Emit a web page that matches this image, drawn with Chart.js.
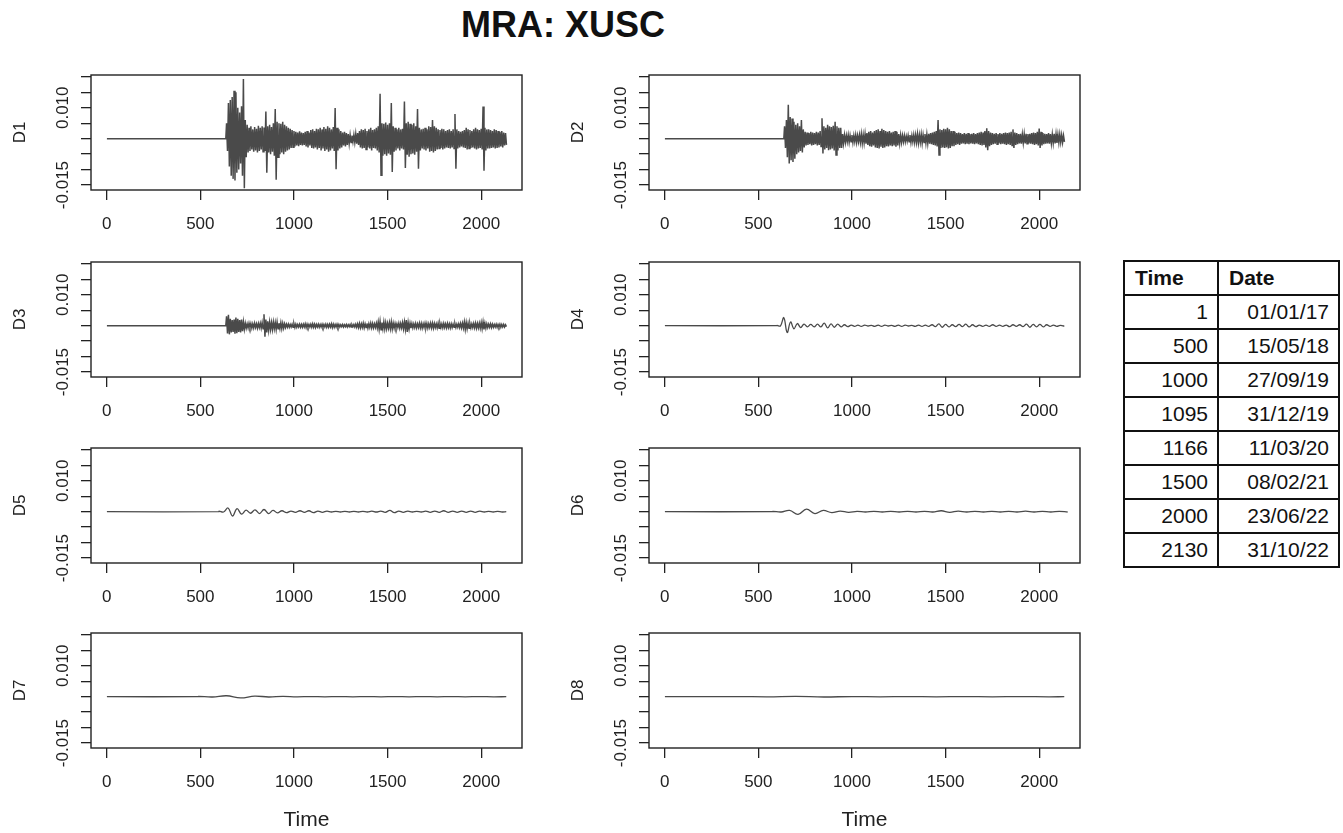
<!DOCTYPE html>
<html>
<head>
<meta charset="utf-8">
<title>MRA: XUSC</title>
<script src="https://cdn.jsdelivr.net/npm/chart.js@4.4.1/dist/chart.umd.min.js"></script>
<style>
  body {
    margin: 0;
    background: #fff;
    width: 1343px;
    height: 833px;
    overflow: hidden;
    position: relative;
    font-family: "Liberation Sans", Arial, sans-serif;
  }
  h1 {
    position: absolute;
    left: 0;
    top: 7px;
    width: 1126px;
    margin: 0;
    text-align: center;
    font-size: 36px;
    line-height: 36px;
    font-weight: bold;
    color: #111;
  }
  canvas { position: absolute; }
  #dates {
    position: absolute;
    left: 1123px;
    top: 260px;
    border-collapse: collapse;
    font-size: 21px;
    color: #111;
  }
  #dates th, #dates td {
    border: 2px solid #111;
    height: 32px;
    padding: 0 9px 0 10px;
  }
  #dates th { text-align: left; font-weight: bold; }
  #dates td { text-align: right; }
  #dates .c1 { width: 73px; }
  #dates .c2 { width: 100px; }
</style>
</head>
<body>
<h1>MRA: XUSC</h1>
<table id="dates"></table>

<script>
// time index vs calendar date lookup
const tableTimes = ["1", "500", "1000", "1095", "1166", "1500", "2000", "2130"];
const tableDates = ["01/01/17", "15/05/18", "27/09/19", "31/12/19", "11/03/20", "08/02/21", "23/06/22", "31/10/22"];

const xTickValues = [0, 500, 1000, 1500, 2000];
const yTickStep = 0.005;
const yTickLabels = ["-0.015", "0.010"];
const lastTime = 2134;

// D1: highs / lows of the detail band, every 10 steps from t = 640
const d1High = [
  0.0050, 0.0115, 0.0125, 0.0135, 0.0155, 0.0150, 0.0100, 0.0085, 0.0105, 0.0193,
  0.0060, 0.0045, 0.0035, 0.0040, 0.0030, 0.0038, 0.0032, 0.0042, 0.0035, 0.0040,
  0.0036, 0.0088, 0.0040, 0.0045, 0.0038, 0.0050, 0.0096, 0.0055, 0.0050, 0.0048,
  0.0055, 0.0045, 0.0040, 0.0035, 0.0032, 0.0028, 0.0025, 0.0022, 0.0020, 0.0024,
  0.0020, 0.0018, 0.0022, 0.0025, 0.0020, 0.0028, 0.0030, 0.0025, 0.0032, 0.0030,
  0.0035, 0.0030, 0.0038, 0.0032, 0.0040, 0.0035, 0.0030, 0.0038, 0.0099, 0.0035,
  0.0030, 0.0025, 0.0020, 0.0022, 0.0018, 0.0015, 0.0012, 0.0010, 0.0012, 0.0015,
  0.0018, 0.0025, 0.0030, 0.0028, 0.0032, 0.0025, 0.0030, 0.0035, 0.0028, 0.0030,
  0.0035, 0.0040, 0.0145, 0.0050, 0.0048, 0.0052, 0.0045, 0.0050, 0.0115, 0.0040,
  0.0035, 0.0030, 0.0035, 0.0030, 0.0032, 0.0120, 0.0050, 0.0055, 0.0048, 0.0045,
  0.0050, 0.0040, 0.0096, 0.0035, 0.0030, 0.0032, 0.0035, 0.0030, 0.0040, 0.0038,
  0.0060, 0.0040, 0.0035, 0.0030, 0.0028, 0.0032, 0.0030, 0.0025, 0.0028, 0.0030,
  0.0025, 0.0030, 0.0080, 0.0030, 0.0025, 0.0022, 0.0025, 0.0028, 0.0035, 0.0030,
  0.0028, 0.0025, 0.0030, 0.0035, 0.0030, 0.0028, 0.0032, 0.0104, 0.0035, 0.0030,
  0.0030, 0.0028, 0.0025, 0.0030, 0.0028, 0.0025, 0.0022, 0.0025, 0.0020, 0.0018
];
const d1Low = [
  -0.0040, -0.0090, -0.0120, -0.0130, -0.0135, -0.0110, -0.0100, -0.0080, -0.0120, -0.0160,
  -0.0060, -0.0045, -0.0040, -0.0035, -0.0042, -0.0038, -0.0045, -0.0040, -0.0035, -0.0042,
  -0.0040, -0.0110, -0.0045, -0.0050, -0.0042, -0.0055, -0.0133, -0.0060, -0.0050, -0.0045,
  -0.0050, -0.0042, -0.0038, -0.0035, -0.0030, -0.0028, -0.0025, -0.0022, -0.0024, -0.0020,
  -0.0022, -0.0020, -0.0025, -0.0028, -0.0022, -0.0030, -0.0032, -0.0028, -0.0035, -0.0030,
  -0.0038, -0.0032, -0.0040, -0.0035, -0.0042, -0.0038, -0.0032, -0.0040, -0.0099, -0.0038,
  -0.0032, -0.0028, -0.0022, -0.0025, -0.0020, -0.0016, -0.0012, -0.0010, -0.0012, -0.0016,
  -0.0020, -0.0028, -0.0032, -0.0030, -0.0035, -0.0028, -0.0032, -0.0038, -0.0030, -0.0032,
  -0.0038, -0.0045, -0.0118, -0.0055, -0.0050, -0.0055, -0.0048, -0.0052, -0.0108, -0.0042,
  -0.0038, -0.0032, -0.0038, -0.0032, -0.0035, -0.0095, -0.0052, -0.0058, -0.0050, -0.0048,
  -0.0052, -0.0042, -0.0097, -0.0038, -0.0032, -0.0035, -0.0038, -0.0032, -0.0042, -0.0040,
  -0.0045, -0.0040, -0.0035, -0.0032, -0.0030, -0.0035, -0.0032, -0.0028, -0.0030, -0.0032,
  -0.0028, -0.0032, -0.0097, -0.0032, -0.0028, -0.0025, -0.0028, -0.0030, -0.0035, -0.0032,
  -0.0030, -0.0028, -0.0032, -0.0035, -0.0032, -0.0030, -0.0035, -0.0104, -0.0038, -0.0032,
  -0.0032, -0.0030, -0.0028, -0.0032, -0.0030, -0.0028, -0.0025, -0.0028, -0.0022, -0.0020
];

// D2, same grid as D1
const d2High = [
  0.0040, 0.0060, 0.0110, 0.0070, 0.0065, 0.0055, 0.0045, 0.0050, 0.0040, 0.0060,
  0.0030, 0.0022, 0.0020, 0.0018, 0.0022, 0.0020, 0.0018, 0.0022, 0.0020, 0.0025,
  0.0066, 0.0040, 0.0035, 0.0045, 0.0040, 0.0038, 0.0042, 0.0055, 0.0040, 0.0035,
  0.0035, 0.0015, 0.0012, 0.0010, 0.0012, 0.0010, 0.0012, 0.0010, 0.0012, 0.0010,
  0.0012, 0.0015, 0.0012, 0.0015, 0.0018, 0.0022, 0.0025, 0.0020, 0.0025, 0.0028,
  0.0030, 0.0025, 0.0032, 0.0028, 0.0025, 0.0022, 0.0025, 0.0020, 0.0022, 0.0025,
  0.0022, 0.0015, 0.0012, 0.0010, 0.0010, 0.0008, 0.0010, 0.0012, 0.0010, 0.0012,
  0.0012, 0.0015, 0.0012, 0.0014, 0.0012, 0.0015, 0.0014, 0.0016, 0.0018, 0.0020,
  0.0022, 0.0025, 0.0060, 0.0030, 0.0028, 0.0032, 0.0030, 0.0035, 0.0030, 0.0025,
  0.0025, 0.0022, 0.0018, 0.0020, 0.0018, 0.0015, 0.0018, 0.0016, 0.0018, 0.0015,
  0.0016, 0.0018, 0.0015, 0.0018, 0.0020, 0.0022, 0.0020, 0.0025, 0.0034, 0.0025,
  0.0020, 0.0018, 0.0016, 0.0018, 0.0015, 0.0018, 0.0016, 0.0018, 0.0020, 0.0018,
  0.0020, 0.0022, 0.0030, 0.0020, 0.0018, 0.0015, 0.0016, 0.0014, 0.0015, 0.0016,
  0.0015, 0.0016, 0.0018, 0.0020, 0.0018, 0.0022, 0.0033, 0.0022, 0.0018, 0.0016,
  0.0015, 0.0018, 0.0015, 0.0014, 0.0016, 0.0015, 0.0013, 0.0014, 0.0012, 0.0010
];
const d2Low = [
  -0.0030, -0.0060, -0.0080, -0.0070, -0.0075, -0.0065, -0.0050, -0.0045, -0.0040, -0.0045,
  -0.0028, -0.0022, -0.0020, -0.0018, -0.0022, -0.0020, -0.0018, -0.0022, -0.0020, -0.0025,
  -0.0048, -0.0035, -0.0030, -0.0037, -0.0035, -0.0032, -0.0038, -0.0053, -0.0038, -0.0030,
  -0.0030, -0.0015, -0.0012, -0.0010, -0.0012, -0.0010, -0.0012, -0.0010, -0.0012, -0.0010,
  -0.0012, -0.0015, -0.0014, -0.0016, -0.0020, -0.0024, -0.0026, -0.0022, -0.0028, -0.0030,
  -0.0032, -0.0026, -0.0030, -0.0028, -0.0024, -0.0025, -0.0022, -0.0024, -0.0022, -0.0026,
  -0.0022, -0.0015, -0.0012, -0.0010, -0.0010, -0.0008, -0.0010, -0.0012, -0.0010, -0.0012,
  -0.0012, -0.0014, -0.0012, -0.0015, -0.0012, -0.0014, -0.0015, -0.0016, -0.0018, -0.0020,
  -0.0022, -0.0025, -0.0053, -0.0030, -0.0028, -0.0030, -0.0028, -0.0032, -0.0030, -0.0024,
  -0.0024, -0.0020, -0.0018, -0.0020, -0.0016, -0.0015, -0.0018, -0.0016, -0.0018, -0.0015,
  -0.0016, -0.0018, -0.0015, -0.0018, -0.0020, -0.0022, -0.0020, -0.0028, -0.0037, -0.0024,
  -0.0020, -0.0018, -0.0016, -0.0018, -0.0015, -0.0018, -0.0016, -0.0018, -0.0020, -0.0018,
  -0.0020, -0.0022, -0.0030, -0.0020, -0.0018, -0.0015, -0.0016, -0.0014, -0.0015, -0.0016,
  -0.0015, -0.0016, -0.0018, -0.0020, -0.0018, -0.0022, -0.0030, -0.0022, -0.0018, -0.0016,
  -0.0015, -0.0016, -0.0015, -0.0014, -0.0015, -0.0014, -0.0013, -0.0012, -0.0012, -0.0010
];

// D3, same grid as D1
const d3High = [
  0.0030, 0.0035, 0.0022, 0.0018, 0.0020, 0.0026, 0.0022, 0.0018, 0.0020, 0.0012,
  0.0008, 0.0006, 0.0008, 0.0007, 0.0006, 0.0008, 0.0006, 0.0007, 0.0008, 0.0010,
  0.0037, 0.0020, 0.0014, 0.0012, 0.0010, 0.0012, 0.0010, 0.0012, 0.0008, 0.0010,
  0.0008, 0.0006, 0.0005, 0.0005, 0.0004, 0.0005, 0.0006, 0.0005, 0.0004, 0.0005,
  0.0004, 0.0005, 0.0006, 0.0005, 0.0004, 0.0005, 0.0006, 0.0005, 0.0004, 0.0005,
  0.0004, 0.0005, 0.0004, 0.0005, 0.0004, 0.0005, 0.0006, 0.0005, 0.0004, 0.0005,
  0.0004, 0.0003, 0.0004, 0.0003, 0.0004, 0.0003, 0.0004, 0.0003, 0.0004, 0.0005,
  0.0006, 0.0007, 0.0006, 0.0008, 0.0006, 0.0007, 0.0006, 0.0008, 0.0007, 0.0006,
  0.0008, 0.0012, 0.0014, 0.0010, 0.0012, 0.0010, 0.0008, 0.0010, 0.0012, 0.0008,
  0.0007, 0.0006, 0.0008, 0.0007, 0.0010, 0.0012, 0.0018, 0.0010, 0.0008, 0.0007,
  0.0006, 0.0007, 0.0006, 0.0008, 0.0007, 0.0006, 0.0008, 0.0007, 0.0006, 0.0008,
  0.0008, 0.0007, 0.0006, 0.0008, 0.0007, 0.0006, 0.0007, 0.0006, 0.0007, 0.0006,
  0.0006, 0.0005, 0.0006, 0.0005, 0.0006, 0.0007, 0.0008, 0.0012, 0.0010, 0.0008,
  0.0007, 0.0006, 0.0007, 0.0008, 0.0007, 0.0008, 0.0010, 0.0012, 0.0008, 0.0006,
  0.0005, 0.0006, 0.0005, 0.0004, 0.0005, 0.0004, 0.0005, 0.0004, 0.0004, 0.0003
];
const d3Low = [
  -0.0025, -0.0028, -0.0022, -0.0020, -0.0026, -0.0024, -0.0020, -0.0022, -0.0018, -0.0012,
  -0.0008, -0.0007, -0.0006, -0.0008, -0.0007, -0.0006, -0.0008, -0.0006, -0.0008, -0.0010,
  -0.0036, -0.0022, -0.0015, -0.0012, -0.0012, -0.0010, -0.0012, -0.0010, -0.0009, -0.0010,
  -0.0008, -0.0006, -0.0005, -0.0005, -0.0004, -0.0005, -0.0006, -0.0005, -0.0004, -0.0005,
  -0.0005, -0.0004, -0.0006, -0.0005, -0.0004, -0.0005, -0.0005, -0.0006, -0.0004, -0.0005,
  -0.0004, -0.0005, -0.0004, -0.0005, -0.0005, -0.0004, -0.0006, -0.0005, -0.0004, -0.0005,
  -0.0004, -0.0003, -0.0004, -0.0003, -0.0004, -0.0003, -0.0004, -0.0003, -0.0004, -0.0005,
  -0.0006, -0.0007, -0.0006, -0.0007, -0.0006, -0.0008, -0.0006, -0.0007, -0.0007, -0.0006,
  -0.0008, -0.0012, -0.0013, -0.0010, -0.0011, -0.0010, -0.0008, -0.0010, -0.0011, -0.0008,
  -0.0007, -0.0006, -0.0008, -0.0007, -0.0010, -0.0012, -0.0020, -0.0011, -0.0008, -0.0007,
  -0.0006, -0.0007, -0.0006, -0.0007, -0.0008, -0.0006, -0.0007, -0.0008, -0.0006, -0.0007,
  -0.0008, -0.0006, -0.0007, -0.0008, -0.0006, -0.0007, -0.0006, -0.0007, -0.0006, -0.0007,
  -0.0006, -0.0005, -0.0006, -0.0005, -0.0006, -0.0007, -0.0008, -0.0012, -0.0010, -0.0008,
  -0.0007, -0.0006, -0.0007, -0.0008, -0.0007, -0.0008, -0.0010, -0.0012, -0.0008, -0.0006,
  -0.0005, -0.0006, -0.0005, -0.0004, -0.0005, -0.0004, -0.0005, -0.0004, -0.0004, -0.0003
];

// D4: crest / trough of each wiggle, one per 36 steps from t = 600
const d4High = [
  0.0001, 0.0026, 0.0012, 0.0007, 0.0005, 0.0004, 0.0005, 0.0008, 0.0006, 0.0005,
  0.0003, 0.0002, 0.0002, 0.0002, 0.0001, 0.0002, 0.0002, 0.0001, 0.0002, 0.0002,
  0.0001, 0.0002, 0.0002, 0.0003, 0.0006, 0.0004, 0.0003, 0.0004, 0.0005, 0.0003,
  0.0002, 0.0002, 0.0003, 0.0002, 0.0002, 0.0003, 0.0003, 0.0005, 0.0004, 0.0004,
  0.0003, 0.0002, 0.0001
];
const d4Low = [
  -0.0001, -0.0022, -0.0010, -0.0006, -0.0004, -0.0004, -0.0004, -0.0007, -0.0005, -0.0004,
  -0.0003, -0.0002, -0.0002, -0.0001, -0.0002, -0.0002, -0.0001, -0.0002, -0.0002, -0.0001,
  -0.0002, -0.0002, -0.0002, -0.0003, -0.0005, -0.0004, -0.0003, -0.0003, -0.0004, -0.0003,
  -0.0002, -0.0002, -0.0002, -0.0002, -0.0003, -0.0002, -0.0003, -0.0005, -0.0004, -0.0004,
  -0.0002, -0.0002, -0.0001
];

// D5: one wiggle per 48 steps from t = 600
const d5High = [
  0.0002, 0.0012, 0.0010, 0.0005, 0.0006, 0.0007, 0.0004, 0.0003, 0.0002, 0.0003,
  0.0003, 0.0002, 0.0002, 0.0001, 0.0001, 0.0001, 0.0001, 0.0002, 0.0002, 0.0004,
  0.0002, 0.0002, 0.0001, 0.0002, 0.0002, 0.0003, 0.0002, 0.0002, 0.0002, 0.0002,
  0.0001, 0.0001
];
const d5Low = [
  -0.0001, -0.0014, -0.0008, -0.0005, -0.0006, -0.0006, -0.0004, -0.0003, -0.0002, -0.0002,
  -0.0003, -0.0002, -0.0001, -0.0001, -0.0001, -0.0001, -0.0001, -0.0001, -0.0002, -0.0003,
  -0.0002, -0.0001, -0.0001, -0.0002, -0.0002, -0.0002, -0.0002, -0.0002, -0.0002, -0.0001,
  -0.0001, -0.0001
];

// D6: one swing per 90 steps from t = 577
const d6High = [
  0.0001, 0.0004, 0.0008, 0.0004, 0.0002, 0.0001, 0.0001, 0.0001, 0.0001, 0.0001,
  0.0003, 0.0002, 0.0001, 0.0001, 0.0001, 0.0002, 0.0001, 0.0001
];
const d6Low = [
  -0.0001, -0.0009, -0.0006, -0.0003, -0.0002, -0.0001, -0.0001, -0.0001, -0.0001, -0.0001,
  -0.0002, -0.0001, -0.0001, -0.0001, -0.0001, -0.0001, -0.0001, -0.0001
];

// D7: one swing per 150 steps from t = 490
const d7High = [0.0001, 0.0003, 0.0002, 0.0001, 0.00005, 0.00005, 0.00005, 0.00005, 0.00005, 0.00005, 0.00005];
const d7Low = [-0.0001, -0.0004, -0.0001, -0.00005, -0.00005, -0.00005, -0.00005, -0.00005, -0.00005, -0.00005, -0.00005];

// D8: practically flat
const d8High = [0.00005, 0.0001, 0.00005, 0.00005, 0.00005, 0.00005];
const d8Low = [-0.00005, -0.0001, -0.00005, -0.00005, -0.00005, -0.00005];

const panels = [
  { name: "D1", high: d1High, low: d1Low, flatEnd: 636, start: 640, step: 10, smooth: false },
  { name: "D2", high: d2High, low: d2Low, flatEnd: 636, start: 640, step: 10, smooth: false },
  { name: "D3", high: d3High, low: d3Low, flatEnd: 636, start: 640, step: 10, smooth: false },
  { name: "D4", high: d4High, low: d4Low, flatEnd: 600, start: 600, step: 36, smooth: true },
  { name: "D5", high: d5High, low: d5Low, flatEnd: 600, start: 600, step: 48, smooth: true },
  { name: "D6", high: d6High, low: d6Low, flatEnd: 577, start: 577, step: 90, smooth: true },
  { name: "D7", high: d7High, low: d7Low, flatEnd: 490, start: 490, step: 150, smooth: true },
  { name: "D8", high: d8High, low: d8Low, flatEnd: 400, start: 400, step: 300, smooth: true }
];

// table
const table = document.getElementById("dates");
table.innerHTML = '<tr><th class="c1">Time</th><th class="c2">Date</th></tr>' +
  tableTimes.map((t, i) => `<tr><td>${t}</td><td>${tableDates[i]}</td></tr>`).join("");

// layout of the 2 x 4 grid (plot box positions)
const colLeft = [0, 558];
const rowTop = [75, 262, 448, 633];
const boxH = 115;
const yAxisW = 91;
const lineColor = "#4a4a4a";
const inkColor = "#222";

Chart.defaults.font.family = "'Liberation Sans', Arial, sans-serif";
Chart.defaults.color = inkColor;

function buildSeries(p) {
  const pts = [{ x: 1, y: 0 }, { x: p.flatEnd, y: 0 }];
  p.high.forEach((h, i) => {
    const t = p.start + i * p.step;
    pts.push({ x: t, y: h });
    pts.push({ x: t + p.step / 2, y: p.low[i] });
  });
  if (pts[pts.length - 1].x < lastTime) pts.push({ x: lastTime, y: 0 });
  return pts;
}

// R-style closed box round the plot region
const boxPlugin = {
  id: "box",
  afterDraw(chart) {
    const { ctx, chartArea: a } = chart;
    ctx.save();
    ctx.strokeStyle = inkColor;
    ctx.lineWidth = 1.4;
    ctx.strokeRect(a.left, a.top, a.right - a.left, a.bottom - a.top);
    ctx.restore();
  }
};

panels.forEach((p, k) => {
  const col = k % 2;
  const row = Math.floor(k / 2);
  const last = row === 3;
  const axisH = last ? 85 : 45;

  const canvas = document.createElement("canvas");
  canvas.width = 525;
  canvas.height = 5 + boxH + axisH;
  canvas.style.left = colLeft[col] + "px";
  canvas.style.top = (rowTop[row] - 5) + "px";
  document.body.appendChild(canvas);

  new Chart(canvas, {
    type: "line",
    data: {
      datasets: [{
        data: buildSeries(p),
        borderColor: lineColor,
        borderWidth: p.smooth ? 1.3 : 1.5,
        pointRadius: 0,
        tension: p.smooth ? 0.4 : 0,
        fill: false
      }]
    },
    options: {
      responsive: false,
      animation: false,
      devicePixelRatio: 1,
      layout: { padding: { top: 5, right: 3, left: 0, bottom: 0 } },
      plugins: { legend: { display: false }, tooltip: { enabled: false } },
      scales: {
        x: {
          type: "linear",
          min: -84,
          max: 2218,
          afterFit: (s) => { s.height = axisH; },
          afterBuildTicks: (s) => { s.ticks = xTickValues.map((v) => ({ value: v })); },
          grid: { drawOnChartArea: false, drawTicks: true, tickLength: 10, color: inkColor, lineWidth: 1.3 },
          border: { display: false },
          ticks: {
            autoSkip: false,
            maxRotation: 0,
            padding: 14,
            font: { size: 17 },
            callback: (v) => String(v)
          },
          title: { display: last, text: "Time", font: { size: 21 }, padding: { top: 0, bottom: 0 } }
        },
        y: {
          type: "linear",
          min: -0.0166,
          max: 0.0206,
          afterFit: (s) => { s.width = yAxisW; },
          grid: { drawOnChartArea: false, drawTicks: true, tickLength: 10, color: inkColor, lineWidth: 1.3 },
          border: { display: false },
          ticks: {
            stepSize: yTickStep,
            includeBounds: false,
            autoSkip: false,
            minRotation: 90,
            maxRotation: 90,
            crossAlign: "center",
            padding: -6,
            font: { size: 17 },
            callback: (v) => (yTickLabels.includes(v.toFixed(3)) ? v.toFixed(3) : "")
          },
          title: { display: true, text: p.name, font: { size: 17 }, padding: { top: 10, bottom: 0 } }
        }
      }
    },
    plugins: [boxPlugin]
  });
});
</script>
</body>
</html>
